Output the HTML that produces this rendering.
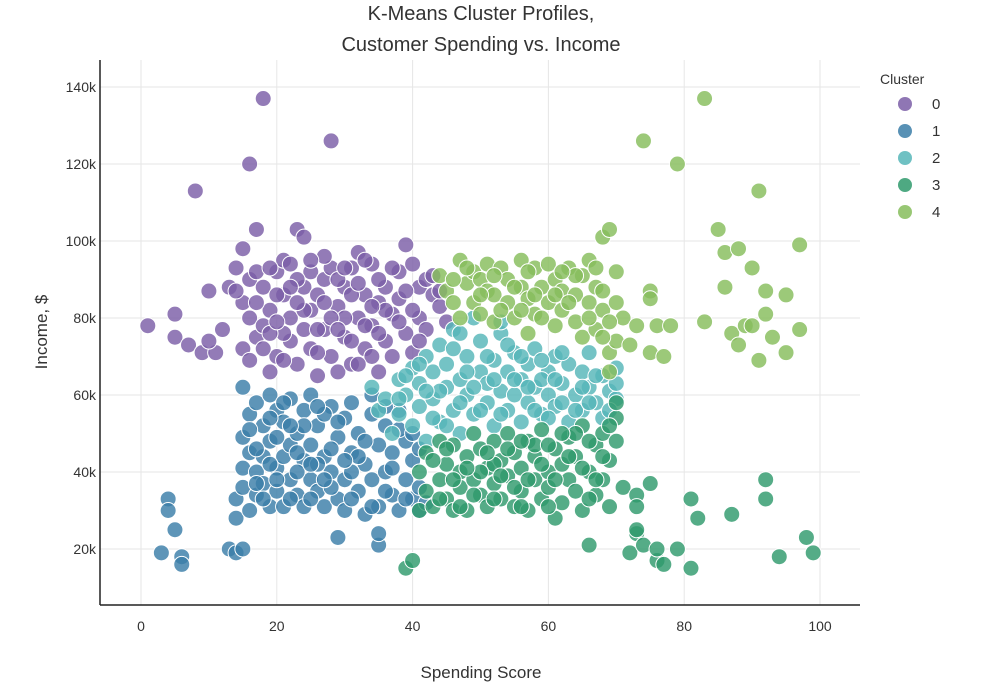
<!DOCTYPE html>
<html><head><meta charset="utf-8"><style>
body{margin:0;background:#fff;width:1000px;height:690px;overflow:hidden;font-family:"Liberation Sans",sans-serif}
</style></head><body>
<svg id="chart" width="1000" height="690" xmlns="http://www.w3.org/2000/svg" font-family="Liberation Sans, sans-serif">
<text x="481" y="20" text-anchor="middle" font-size="20" fill="#333">K-Means Cluster Profiles,</text>
<text x="481" y="51" text-anchor="middle" font-size="20" fill="#333">Customer Spending vs. Income</text>
<g id="grid"></g><g id="pts"></g><g id="axes"></g>
<text x="481" y="678" text-anchor="middle" font-size="17" fill="#333">Spending Score</text>
<text transform="translate(47,332) rotate(-90)" text-anchor="middle" font-size="17" fill="#333">Income, $</text>
<g id="legend"><text x="880" y="84" font-size="14" fill="#333">Cluster</text></g>
</svg>
<script>
const xTicks=[0,20,40,60,80,100];
const yTicks=[20,40,60,80,100,120,140];
const clusterNames=["0","1","2","3","4"];
const colors=["#7b5ea7","#3b7ea8","#56b6b8","#2f9a6c","#86bd5c"];
const c0=[[1,78],[5,81],[5,75],[8,113],[7,73],[9,71],[10,87],[11,71],[12,77],[10,74],[13,88],[14,93],[15,98],[16,120],[17,103],[18,137],[15,84],[16,90],[17,92],[16,80],[15,72],[16,69],[17,75],[18,88],[18,78],[19,66],[20,70],[19,82],[20,92],[21,95],[21,86],[22,74],[22,80],[23,103],[24,101],[24,88],[23,68],[25,92],[25,82],[25,72],[26,65],[26,86],[27,90],[27,77],[28,126],[28,93],[28,70],[29,83],[29,66],[30,88],[30,75],[31,93],[31,68],[32,80],[32,97],[33,72],[33,86],[34,94],[34,78],[35,66],[35,84],[36,88],[36,74],[37,70],[37,81],[38,92],[38,85],[39,99],[39,76],[40,94],[40,71],[41,88],[41,80],[42,90],[42,77],[43,86],[44,83],[45,79],[18,72],[21,76],[24,77],[27,96],[30,80],[33,78],[26,77],[20,86],[29,90],[34,70],[39,87],[36,82],[23,90],[31,86],[22,94],[14,87],[19,93],[31,74],[28,80],[17,84],[19,76],[21,69],[22,88],[24,82],[25,95],[26,71],[27,84],[29,77],[30,93],[32,68],[32,89],[34,83],[35,76],[37,93],[38,79],[40,82],[41,74],[43,91],[33,95],[20,79],[23,84],[35,90],[44,87]];
const c1=[[3,19],[4,33],[4,30],[5,25],[6,18],[6,16],[13,20],[14,19],[15,20],[14,28],[14,33],[15,62],[15,49],[15,41],[15,36],[16,55],[16,45],[16,30],[17,58],[17,40],[17,34],[18,52],[18,44],[18,37],[19,60],[19,48],[19,31],[20,56],[20,41],[20,35],[21,53],[21,44],[21,31],[22,59],[22,38],[22,47],[23,50],[23,34],[24,43],[24,56],[24,31],[25,38],[25,60],[25,47],[26,52],[26,35],[27,44],[27,31],[28,57],[28,40],[29,23],[29,49],[29,33],[30,54],[30,38],[30,30],[31,45],[31,58],[32,35],[32,50],[33,42],[33,29],[34,55],[34,38],[35,47],[35,21],[35,24],[35,31],[36,52],[36,40],[37,34],[37,45],[38,30],[38,56],[39,38],[39,48],[40,33],[40,43],[41,30],[41,36],[42,32],[17,46],[20,49],[23,40],[26,42],[28,36],[31,40],[27,55],[32,44],[24,52],[16,51],[18,33],[19,42],[21,58],[22,33],[23,45],[25,33],[26,57],[27,38],[28,46],[29,53],[30,43],[31,33],[33,48],[34,31],[34,60],[36,35],[36,57],[37,41],[38,51],[39,33],[40,50],[41,46],[19,54],[22,52],[25,42],[17,37],[20,38]];
const c2=[[34,62],[35,56],[36,59],[37,50],[38,64],[38,55],[39,60],[40,67],[40,52],[41,63],[41,57],[42,70],[42,48],[43,66],[43,59],[44,73],[44,53],[45,62],[45,68],[46,56],[46,77],[47,64],[47,50],[48,70],[48,60],[49,55],[49,80],[50,66],[50,74],[51,58],[51,63],[52,69],[52,52],[53,76],[53,61],[54,66],[54,56],[55,71],[55,60],[56,64],[56,53],[57,68],[57,58],[58,72],[58,62],[59,55],[60,66],[60,60],[61,70],[61,57],[62,63],[63,68],[63,53],[64,60],[65,66],[65,56],[66,71],[66,62],[67,58],[68,65],[68,54],[69,61],[70,59],[70,63],[45,52],[52,64],[56,70],[48,66],[59,64],[62,58],[39,65],[41,68],[43,54],[44,61],[46,72],[47,58],[49,62],[50,56],[51,70],[53,55],[54,73],[55,64],[57,62],[58,56],[59,69],[60,54],[61,64],[62,71],[64,56],[65,62],[66,58],[67,65],[69,56],[70,67],[47,76],[53,79],[42,61],[38,59]];
const c3=[[39,15],[40,17],[41,30],[41,40],[42,45],[42,35],[43,31],[44,48],[44,38],[45,42],[45,33],[46,30],[46,47],[47,40],[47,36],[48,44],[48,30],[49,50],[49,38],[50,34],[50,46],[51,41],[51,31],[52,48],[52,37],[53,33],[53,43],[54,50],[54,39],[55,31],[55,45],[56,35],[56,41],[57,48],[57,30],[58,38],[58,44],[59,33],[59,51],[60,40],[60,36],[61,28],[61,46],[62,42],[62,32],[63,49],[63,38],[64,35],[64,44],[65,52],[65,30],[66,40],[66,21],[67,47],[67,34],[68,38],[68,50],[69,31],[69,43],[70,54],[70,58],[71,36],[72,19],[73,34],[73,31],[73,24],[73,25],[74,21],[75,37],[76,17],[76,20],[77,16],[79,20],[81,15],[81,33],[82,28],[87,29],[92,38],[92,33],[94,18],[98,23],[99,19],[46,38],[52,42],[58,47],[64,50],[55,36],[50,40],[43,43],[44,33],[45,46],[47,31],[48,41],[49,34],[51,45],[52,33],[53,39],[54,46],[56,31],[56,48],[57,38],[59,42],[60,31],[61,38],[62,50],[63,44],[65,41],[66,48],[67,38],[68,44],[69,52],[70,48],[66,33],[60,47]];
const c4=[[44,91],[45,87],[46,84],[47,95],[47,80],[48,89],[49,92],[49,84],[50,90],[50,81],[51,94],[51,87],[52,86],[52,79],[53,93],[54,84],[54,90],[55,80],[56,95],[56,88],[57,85],[57,76],[58,93],[58,81],[59,88],[60,84],[60,94],[61,78],[61,90],[62,87],[62,82],[63,93],[64,79],[64,86],[65,91],[65,75],[66,84],[66,95],[67,88],[67,77],[68,101],[68,82],[69,103],[69,71],[69,66],[70,92],[70,74],[71,80],[72,73],[73,78],[74,126],[75,71],[75,87],[75,85],[76,78],[77,70],[78,78],[79,120],[83,137],[83,79],[85,103],[86,97],[86,88],[87,76],[88,98],[88,73],[89,78],[90,78],[90,93],[91,113],[91,69],[92,87],[92,81],[93,75],[95,86],[95,71],[97,99],[97,77],[46,90],[48,93],[50,86],[52,91],[53,82],[55,88],[57,92],[59,80],[61,86],[63,84],[64,91],[66,80],[67,93],[68,87],[68,75],[70,84],[69,79],[62,92],[58,86],[56,82]];
const clusters=[c0,c1,c2,c3,c4];

const NS="http://www.w3.org/2000/svg";
const L=100,R=860,T=60,B=605;
function xs(v){return 141+v*6.79;}
function ys(v){return 87+(140-v)*3.85;}
function mk(tag,attrs,parent){const e=document.createElementNS(NS,tag);for(const k in attrs)e.setAttribute(k,attrs[k]);parent.appendChild(e);return e;}
const grid=document.getElementById('grid'),axes=document.getElementById('axes'),pts=document.getElementById('pts'),leg=document.getElementById('legend');
xTicks.forEach(t=>{
  const g=mk('line',{x1:xs(t),x2:xs(t),y1:T,y2:B,stroke:'#e6e6e6','stroke-width':1},grid);
  
  
  const tx=mk('text',{x:xs(t),y:B+26,'text-anchor':'middle','font-size':14,fill:'#333'},axes);
  tx.textContent=t;
  
  
});
yTicks.forEach(t=>{
  const g=mk('line',{x1:L,x2:R,y1:ys(t),y2:ys(t),stroke:'#e6e6e6','stroke-width':1},grid);
  
  
  const tx=mk('text',{x:L-4,y:ys(t)+5,'text-anchor':'end','font-size':14,fill:'#333'},axes);
  tx.textContent=t+'k';
  
  
});
const ax=mk('line',{x1:L,x2:L,y1:T,y2:B,stroke:'#222','stroke-width':1.5},axes);


const bx=mk('line',{x1:L,x2:R,y1:B,y2:B,stroke:'#222','stroke-width':1.5},axes);


clusters.forEach((c,i)=>{
  c.forEach(p=>{
    const e=mk('circle',{cx:xs(p[0]),cy:ys(p[1]),r:8,fill:colors[i],'fill-opacity':0.82,stroke:'#fff','stroke-width':1},pts);
    
    
  });
  const lc=mk('circle',{cx:905,cy:104+i*27,r:7,fill:colors[i],'fill-opacity':0.85},leg);
  
  
  const lt=mk('text',{x:932,y:109+i*27,'font-size':15,fill:'#333'},leg);
  lt.textContent=clusterNames[i];
  
  
});
</script>
</body></html>
